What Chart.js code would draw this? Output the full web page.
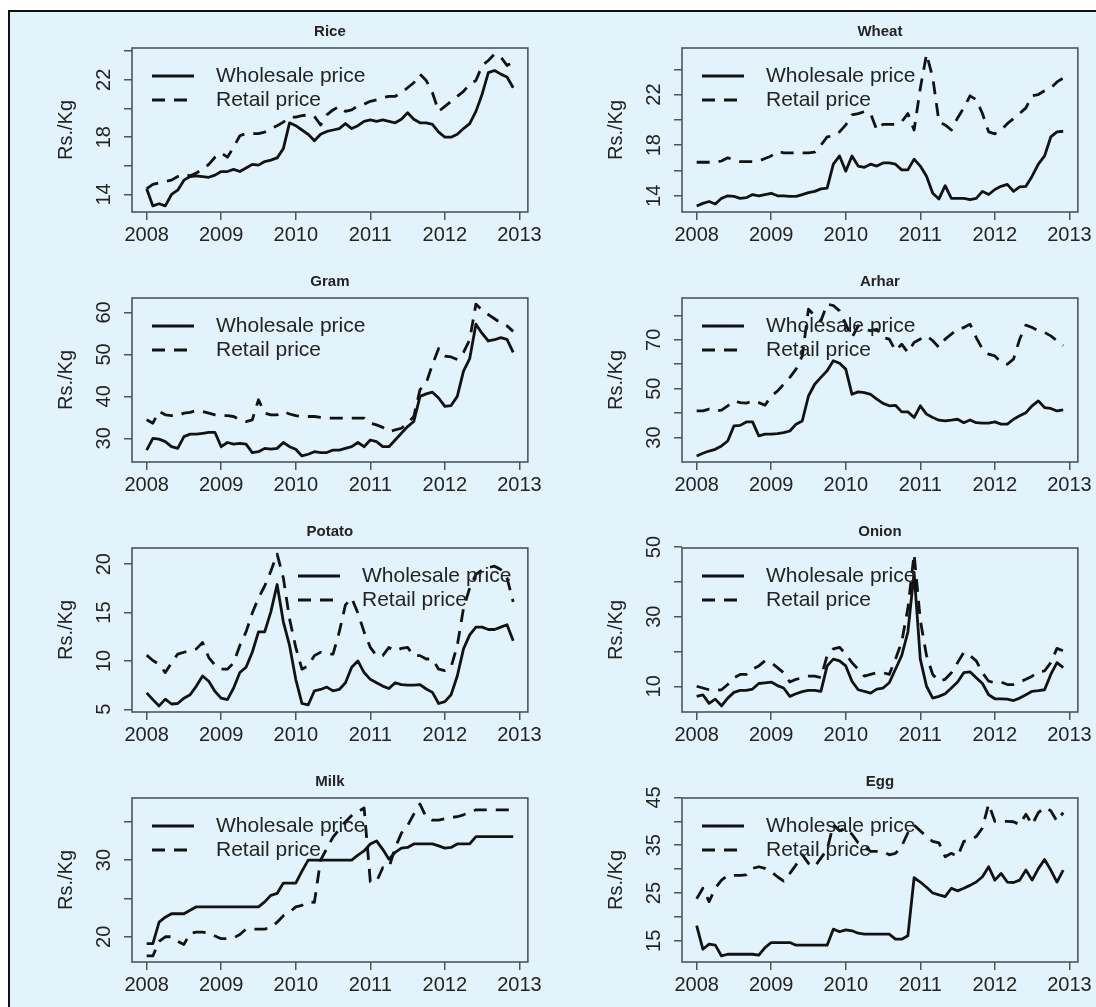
<!DOCTYPE html>
<html>
<head>
<meta charset="utf-8">
<script src="https://cdn.jsdelivr.net/npm/chart.js@4.4.1/dist/chart.umd.min.js"></script>
<style>
  html, body { margin: 0; padding: 0; width: 1096px; height: 1007px; overflow: hidden; background: #ffffff; }
  #frame { position: absolute; left: 8px; top: 10px; width: 1100px; height: 1010px;
           border-left: 2px solid #111; border-top: 2px solid #111; background: #e2f3fc; }
  canvas.panel { position: absolute; }
</style>
</head>
<body>
<div id="frame"></div>
<script>
// Monthly observations, Jan 2008 to Dec 2012
const months = Array.from({ length: 60 }, (_, i) => 2008 + i / 12);
const yearTicks = [2008, 2009, 2010, 2011, 2012, 2013];
const seriesNames = ['Wholesale price', 'Retail price'];
const commodities = ['Rice', 'Wheat', 'Gram', 'Arhar', 'Potato', 'Onion', 'Milk', 'Egg'];

// Prices in Rs./Kg
const riceWholesale = [
  14.4, 13.2, 13.35, 13.2, 14.0, 14.3, 15.0, 15.25, 15.3, 15.25, 15.2, 15.35,
  15.6, 15.6, 15.75, 15.6, 15.85, 16.1, 16.05, 16.3, 16.4, 16.55, 17.2, 19.0,
  18.8, 18.5, 18.2, 17.75, 18.2, 18.4, 18.5, 18.6, 18.95, 18.6, 18.8, 19.1,
  19.2, 19.1, 19.2, 19.1, 19.0, 19.25, 19.7, 19.25, 19.0, 19.0, 18.9, 18.35,
  18.0, 18.0, 18.2, 18.6, 18.95, 19.8, 21.0, 22.5, 22.65, 22.4, 22.2, 21.45];
const riceRetail = [
  14.4, 14.7, 14.8, 14.9, 15.0, 15.25, 15.4, 15.3, 15.5, 15.75, 16.1, 16.6,
  16.9, 16.6, 17.3, 18.1, 18.25, 18.25, 18.25, 18.35, 18.6, 18.8, 19.05, 19.4,
  19.4, 19.5, 19.55, 19.45, 18.85, 19.55, 19.9, 20.15, 19.8, 19.9, 20.2, 20.3,
  20.5, 20.6, 20.75, 20.85, 20.85, 21.1, 21.45, 21.8, 22.4, 21.95, 21.1, 19.8,
  20.15, 20.5, 20.85, 21.2, 21.7, 21.95, 23.0, 23.35, 23.8, 23.6, 23.0, 23.25];

const wheatWholesale = [
  13.2, 13.4, 13.55, 13.35, 13.8, 14.0, 13.95, 13.8, 13.85, 14.1, 14.0, 14.1,
  14.2, 14.0, 14.0, 13.95, 13.95, 14.1, 14.25, 14.35, 14.55, 14.6, 16.5, 17.15,
  15.95, 17.15, 16.35, 16.25, 16.5, 16.35, 16.6, 16.6, 16.5, 16.05, 16.05, 16.9,
  16.35, 15.55, 14.2, 13.75, 14.8, 13.8, 13.8, 13.8, 13.7, 13.8, 14.35, 14.1,
  14.5, 14.75, 14.9, 14.35, 14.7, 14.75, 15.55, 16.5, 17.15, 18.65, 19.05, 19.1];
const wheatRetail = [
  16.65, 16.65, 16.65, 16.65, 16.75, 17.0, 16.85, 16.7, 16.7, 16.7, 16.75, 16.95,
  17.15, 17.5, 17.4, 17.4, 17.4, 17.4, 17.4, 17.45, 18.0, 18.65, 18.75, 19.05,
  19.6, 20.4, 20.5, 20.65, 20.5, 19.2, 19.65, 19.65, 19.65, 19.85, 20.5, 19.2,
  22.5, 25.2, 23.35, 19.85, 19.6, 19.2, 20.15, 20.95, 21.9, 21.6, 20.5, 19.05,
  18.9, 19.2, 19.7, 20.1, 20.5, 20.95, 21.9, 22.0, 22.3, 22.5, 23.0, 23.3];

const gramWholesale = [
  27.2, 30.0, 29.8, 29.2, 28.0, 27.6, 30.4, 31.0, 31.0, 31.2, 31.4, 31.4,
  28.0, 29.0, 28.6, 28.8, 28.6, 26.6, 26.8, 27.6, 27.4, 27.6, 29.0, 28.0,
  27.4, 25.8, 26.2, 26.8, 26.6, 26.6, 27.2, 27.2, 27.6, 28.0, 29.0, 28.0,
  29.6, 29.2, 28.0, 28.0, 29.6, 31.2, 32.8, 34.0, 40.0, 40.6, 41.0, 39.6,
  37.6, 37.8, 40.0, 46.0, 49.0, 57.2, 55.0, 53.2, 53.5, 54.0, 53.6, 50.5];
const gramRetail = [
  34.4, 33.6, 36.4, 35.6, 35.4, 35.4, 36.0, 36.2, 36.6, 36.4, 36.0, 35.6,
  35.4, 35.4, 35.2, 34.4, 34.0, 34.4, 39.2, 36.0, 35.6, 35.6, 36.4, 35.8,
  35.4, 35.2, 35.2, 35.2, 35.0, 34.8, 34.8, 34.8, 34.8, 34.8, 34.8, 34.8,
  33.6, 33.2, 32.6, 31.6, 32.0, 32.4, 33.6, 35.2, 41.6, 43.2, 47.6, 51.4,
  49.6, 49.4, 48.8, 50.5, 53.5, 62.0, 60.5, 59.5, 58.5, 57.5, 56.8, 55.5];

const arharWholesale = [
  22.5, 23.6, 24.5, 25.2, 26.6, 28.6, 34.8, 35.0, 36.4, 36.4, 30.7, 31.4,
  31.4, 31.6, 32.0, 32.7, 35.5, 36.8, 47.0, 51.8, 54.6, 57.3, 61.4, 60.4,
  58.0, 47.7, 48.7, 48.4, 47.7, 45.7, 44.0, 43.0, 43.2, 40.5, 40.5, 38.2,
  43.0, 39.6, 38.2, 37.1, 36.8, 37.1, 37.5, 36.1, 37.2, 36.1, 35.9, 35.9,
  36.4, 35.5, 35.5, 37.5, 38.9, 40.2, 43.0, 45.0, 42.3, 41.9, 40.9, 41.3];
const arharRetail = [
  40.9, 40.9, 41.6, 40.9, 41.2, 43.0, 45.0, 44.3, 44.1, 45.0, 44.3, 43.2,
  47.0, 49.0, 51.8, 54.6, 58.0, 63.4, 82.5, 79.8, 77.7, 84.6, 84.0, 81.8,
  76.4, 70.9, 75.7, 74.3, 73.7, 74.3, 70.9, 70.3, 65.5, 68.2, 64.8, 68.9,
  70.3, 71.6, 69.6, 66.9, 70.3, 72.3, 74.3, 75.0, 76.4, 70.9, 66.2, 64.1,
  63.4, 60.7, 60.0, 62.1, 70.3, 76.0, 75.0, 73.7, 73.0, 71.6, 69.6, 67.6];

const potatoWholesale = [
  6.7, 6.0, 5.35, 6.05, 5.55, 5.6, 6.15, 6.5, 7.4, 8.45, 7.9, 6.85,
  6.15, 6.0, 7.2, 8.8, 9.35, 10.9, 13.0, 13.0, 15.1, 17.9, 14.05, 11.6,
  8.1, 5.6, 5.45, 6.9, 7.05, 7.3, 6.9, 7.05, 7.75, 9.35, 10.0, 8.8,
  8.1, 7.75, 7.4, 7.15, 7.75, 7.55, 7.5, 7.5, 7.55, 7.1, 6.75, 5.6,
  5.8, 6.5, 8.45, 11.25, 12.7, 13.5, 13.5, 13.25, 13.25, 13.5, 13.75, 12.1];
const potatoRetail = [
  10.6, 10.05, 9.65, 8.8, 9.8, 10.7, 10.9, 11.05, 11.25, 11.9, 10.35, 9.55,
  9.15, 9.15, 9.8, 11.6, 13.0, 14.95, 16.5, 17.75, 19.3, 21.05, 18.6, 14.35,
  11.4, 9.15, 9.5, 10.55, 10.9, 10.7, 10.7, 13.0, 15.8, 16.5, 14.95, 13.0,
  11.4, 10.55, 10.55, 11.4, 11.05, 11.3, 11.4, 10.55, 10.55, 10.2, 10.2, 9.15,
  9.0, 9.35, 11.6, 15.45, 17.55, 18.95, 19.4, 19.65, 19.8, 19.45, 18.6, 16.1];

const onionWholesale = [
  7.1, 7.55, 5.1, 6.3, 4.35, 6.6, 8.25, 8.8, 8.8, 9.2, 10.8, 11.0,
  11.2, 10.2, 9.5, 7.1, 7.85, 8.45, 8.8, 8.8, 8.55, 15.85, 17.8, 17.3,
  15.85, 11.45, 9.0, 8.55, 8.05, 9.2, 9.5, 11.0, 14.9, 18.8, 25.6, 42.7,
  17.8, 10.0, 6.6, 7.1, 7.85, 9.5, 11.2, 13.9, 14.15, 12.45, 10.8, 7.55,
  6.4, 6.4, 6.3, 5.9, 6.6, 7.55, 8.55, 8.75, 9.0, 13.4, 16.8, 15.35];
const onionRetail = [
  10.0, 9.5, 9.0, 8.8, 9.0, 10.5, 12.45, 13.4, 13.4, 14.9, 15.85, 17.3,
  16.8, 15.35, 13.9, 11.2, 12.0, 12.45, 12.9, 12.9, 12.45, 18.8, 20.75, 21.2,
  19.25, 16.8, 14.9, 12.9, 13.4, 13.9, 13.9, 13.4, 17.8, 22.7, 32.4, 48.0,
  29.0, 18.8, 13.4, 11.45, 12.0, 13.9, 16.8, 19.75, 18.8, 17.3, 13.9, 11.45,
  11.0, 11.2, 10.5, 10.5, 11.2, 12.0, 12.9, 14.1, 14.4, 16.8, 20.9, 20.2];

const milkWholesale = [
  19.1, 19.1, 21.9, 22.55, 23.0, 23.0, 23.0, 23.45, 23.9, 23.9, 23.9, 23.9,
  23.9, 23.9, 23.9, 23.9, 23.9, 23.9, 23.9, 24.55, 25.4, 25.65, 27.0, 27.0,
  27.0, 28.55, 30.0, 30.0, 30.0, 30.0, 30.0, 30.0, 30.0, 30.0, 30.65, 31.2,
  32.1, 32.5, 31.4, 30.1, 31.0, 31.55, 31.65, 32.1, 32.1, 32.1, 32.1, 31.85,
  31.55, 31.65, 32.1, 32.1, 32.1, 33.05, 33.05, 33.05, 33.05, 33.05, 33.05, 33.05];
const milkRetail = [
  17.5, 17.5, 19.4, 20.0, 20.0, 19.4, 19.0, 20.45, 20.6, 20.6, 20.5, 20.1,
  19.75, 19.75, 19.85, 20.3, 21.0, 21.0, 21.0, 21.0, 21.2, 21.9, 22.75, 23.2,
  23.9, 24.1, 24.55, 24.5, 30.0, 31.5, 33.0, 34.0, 35.0, 35.8, 36.3, 36.8,
  27.2, 27.2, 29.0, 29.0, 31.6, 33.5, 34.5, 36.0, 37.3, 35.6, 35.2, 35.2,
  35.4, 35.55, 35.65, 35.9, 36.2, 36.55, 36.55, 36.55, 36.55, 36.55, 36.55, 36.55];

const eggWholesale = [
  18.2, 13.25, 14.3, 14.1, 11.85, 12.2, 12.2, 12.2, 12.2, 12.2, 12.0, 13.6,
  14.65, 14.65, 14.65, 14.65, 14.1, 14.1, 14.1, 14.1, 14.1, 14.1, 17.45, 16.9,
  17.3, 17.1, 16.6, 16.4, 16.4, 16.4, 16.4, 16.4, 15.35, 15.35, 16.05, 28.2,
  27.3, 26.2, 25.0, 24.6, 24.25, 26.0, 25.45, 26.0, 26.6, 27.3, 28.4, 30.5,
  27.7, 29.1, 27.3, 27.2, 27.7, 29.8, 27.7, 30.1, 32.0, 29.8, 27.3, 29.8];
const eggRetail = [
  23.8, 26.0, 23.2, 26.0, 27.7, 28.7, 28.7, 28.7, 28.8, 30.15, 30.5, 30.15,
  29.45, 28.4, 27.5, 29.1, 30.9, 33.0, 31.2, 30.5, 32.3, 34.1, 39.3, 38.0,
  38.6, 37.3, 35.5, 34.8, 33.7, 33.7, 33.7, 33.0, 33.3, 34.8, 37.6, 39.2,
  38.0, 36.8, 35.8, 35.5, 32.6, 33.3, 32.6, 35.8, 36.1, 36.8, 38.6, 43.6,
  40.0, 40.0, 40.0, 39.9, 39.3, 41.5, 39.3, 41.8, 42.9, 42.2, 40.0, 41.8];

// Y-axis tick positions and the subset that carries a label
const riceTicks = [14, 16, 18, 20, 22, 24];        const riceTickLabels = [14, 18, 22];
const wheatTicks = [14, 16, 18, 20, 22, 24];       const wheatTickLabels = [14, 18, 22];
const gramTicks = [30, 40, 50, 60];                const gramTickLabels = [30, 40, 50, 60];
const arharTicks = [30, 40, 50, 60, 70, 80];       const arharTickLabels = [30, 50, 70];
const potatoTicks = [5, 10, 15, 20];               const potatoTickLabels = [5, 10, 15, 20];
const onionTicks = [10, 20, 30, 40, 50];           const onionTickLabels = [10, 30, 50];
const milkTicks = [20, 25, 30, 35];                const milkTickLabels = [20, 30];
const eggTicks = [15, 20, 25, 30, 35, 40, 45];     const eggTickLabels = [15, 25, 35, 45];

const panels = [
  { wholesale: riceWholesale,   retail: riceRetail,   ticks: riceTicks,   tickLabels: riceTickLabels,   legendX: 20 },
  { wholesale: wheatWholesale,  retail: wheatRetail,  ticks: wheatTicks,  tickLabels: wheatTickLabels,  legendX: 20 },
  { wholesale: gramWholesale,   retail: gramRetail,   ticks: gramTicks,   tickLabels: gramTickLabels,   legendX: 20 },
  { wholesale: arharWholesale,  retail: arharRetail,  ticks: arharTicks,  tickLabels: arharTickLabels,  legendX: 20 },
  { wholesale: potatoWholesale, retail: potatoRetail, ticks: potatoTicks, tickLabels: potatoTickLabels, legendX: 166 },
  { wholesale: onionWholesale,  retail: onionRetail,  ticks: onionTicks,  tickLabels: onionTickLabels,  legendX: 20 },
  { wholesale: milkWholesale,   retail: milkRetail,   ticks: milkTicks,   tickLabels: milkTickLabels,   legendX: 20 },
  { wholesale: eggWholesale,    retail: eggRetail,    ticks: eggTicks,    tickLabels: eggTickLabels,    legendX: 20 }
];

const FONT = '"Liberation Sans", Arial, Helvetica, sans-serif';
const INK = '#232323';
const FRAME = '#4f555b';
const LINE = '#121212';
Chart.defaults.font.family = FONT;
Chart.defaults.color = INK;

// Axis limits extended by 4% of the data range on each side
function extendedRange(values) {
  const lo = Math.min(...values), hi = Math.max(...values);
  const pad = (hi - lo) * 0.04;
  return [lo - pad, hi + pad];
}
const [xMin, xMax] = extendedRange(months);

// Plot frame, per-panel title and the two-line legend
const panelDecor = {
  id: 'panelDecor',
  beforeDatasetsDraw(chart) {
    const { ctx, chartArea: a } = chart;
    ctx.save();
    ctx.strokeStyle = FRAME;
    ctx.lineWidth = 1.6;
    ctx.strokeRect(a.left, a.top, a.right - a.left, a.bottom - a.top);
    ctx.restore();
  },
  afterDatasetsDraw(chart, args, opts) {
    const { ctx, chartArea: a } = chart;
    ctx.save();
    chart.data.datasets.forEach((ds, i) => {
      const y = a.top + 28 + i * 24;
      const x0 = a.left + opts.legendX;
      ctx.beginPath();
      ctx.setLineDash(ds.borderDash || []);
      ctx.lineWidth = ds.borderWidth;
      ctx.strokeStyle = ds.borderColor;
      ctx.moveTo(x0, y);
      ctx.lineTo(x0 + 42, y);
      ctx.stroke();
      ctx.setLineDash([]);
      ctx.font = '21px ' + FONT;
      ctx.fillStyle = INK;
      ctx.textAlign = 'left';
      ctx.textBaseline = 'middle';
      ctx.fillText(ds.label, x0 + 64, y);
    });
    ctx.font = 'bold 15px ' + FONT;
    ctx.fillStyle = INK;
    ctx.textAlign = 'center';
    ctx.textBaseline = 'middle';
    ctx.fillText(opts.title, (a.left + a.right) / 2, a.top - 16.5);
    ctx.restore();
  }
};

panels.forEach((p, idx) => {
  const col = idx % 2, row = Math.floor(idx / 2);
  const canvas = document.createElement('canvas');
  canvas.className = 'panel';
  canvas.width = 533;
  canvas.height = 243;
  canvas.style.left = (12 + 550 * col) + 'px';
  canvas.style.top = (12 + 250 * row) + 'px';
  document.body.appendChild(canvas);

  const [yMin, yMax] = extendedRange(p.wholesale.concat(p.retail));
  const toPoints = (vals) => vals.map((v, i) => ({ x: months[i], y: v }));

  new Chart(canvas, {
    type: 'line',
    data: {
      datasets: [
        { label: seriesNames[0], data: toPoints(p.wholesale), borderColor: LINE, borderWidth: 2.8,
          pointRadius: 0, tension: 0, borderJoinStyle: 'round', fill: false },
        { label: seriesNames[1], data: toPoints(p.retail), borderColor: LINE, borderWidth: 2.8,
          borderDash: [13, 9], pointRadius: 0, tension: 0, borderJoinStyle: 'round', fill: false }
      ]
    },
    plugins: [panelDecor],
    options: {
      responsive: false,
      animation: false,
      devicePixelRatio: 1,
      layout: { padding: { left: 0, top: 36, right: 16, bottom: 0 } },
      plugins: {
        legend: { display: false },
        title: { display: false },
        tooltip: { enabled: false },
        panelDecor: { title: commodities[idx], legendX: p.legendX }
      },
      scales: {
        x: {
          type: 'linear',
          min: xMin,
          max: xMax,
          afterBuildTicks: (s) => { s.ticks = yearTicks.map(v => ({ value: v })); },
          afterFit: (s) => { s.height = 43; },
          ticks: { autoSkip: false, maxRotation: 0, padding: 3, font: { size: 20 }, color: INK,
                   callback: (v) => String(v) },
          grid: { drawOnChartArea: false, drawTicks: true, tickLength: 8, color: FRAME, lineWidth: 1.5 },
          border: { display: false }
        },
        y: {
          type: 'linear',
          min: yMin,
          max: yMax,
          afterBuildTicks: (s) => { s.ticks = p.ticks.map(v => ({ value: v })); },
          afterFit: (s) => { s.width = 120; },
          ticks: { autoSkip: false, minRotation: 90, maxRotation: 90, crossAlign: 'center', padding: 8,
                   font: { size: 20 }, color: INK,
                   callback: (v) => p.tickLabels.includes(v) ? String(v) : '' },
          grid: { drawOnChartArea: false, drawTicks: true, tickLength: 8, color: FRAME, lineWidth: 1.5 },
          border: { display: false },
          title: { display: true, text: 'Rs./Kg', font: { size: 20 }, color: INK, padding: { top: 42, bottom: 0 } }
        }
      }
    }
  });
});
</script>
</body>
</html>
